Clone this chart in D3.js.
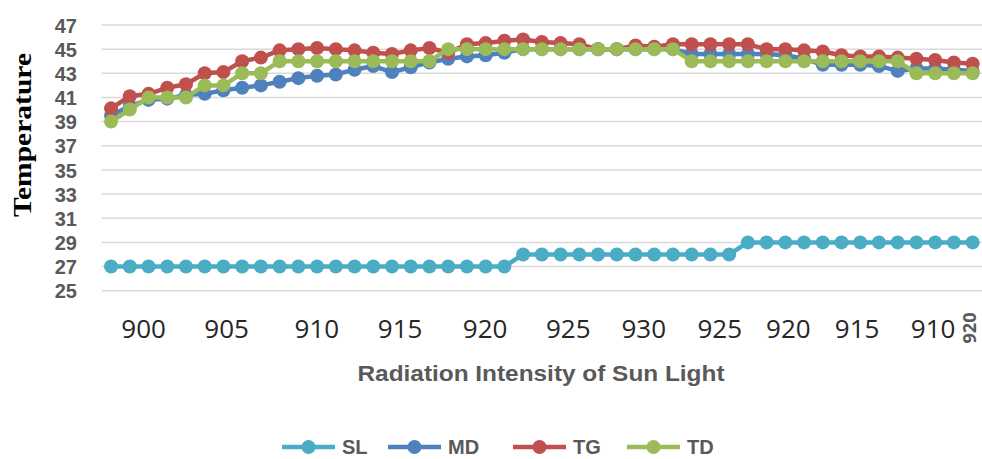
<!DOCTYPE html>
<html>
<head>
<meta charset="utf-8">
<script src="https://cdn.jsdelivr.net/npm/d3@7"></script>
<style>
  html, body { margin: 0; padding: 0; background: #ffffff; }
  svg { display: block; }
</style>
</head>
<body>
<svg id="chart" width="982" height="459"></svg>
<script>
// ---- Data ----
const categories = [1,2,3,4,5,6,7,8,9,10,11,12,13,14,15,16,17,18,19,20,21,22,23,24,25,26,27,28,29,30,31,32,33,34,35,36,37,38,39,40,41,42,43,44,45,46,47];
const seriesNames = ["SL", "MD", "TG", "TD"];
const SL = [27,27,27,27,27,27,27,27,27,27,27,27,27,27,27,27,27,27,27,27,27,27,
            28,28,28,28,28,28,28,28,28,28,28,28,
            29,29,29,29,29,29,29,29,29,29,29,29,29];
const MD = [39.5,40.3,40.8,40.9,41.2,41.3,41.6,41.8,42.0,42.3,42.6,42.8,42.9,43.3,43.6,43.1,43.5,43.9,44.2,44.4,44.5,44.7,
            45,45,45,45,45,45,45,45,45,
            44.6,44.6,44.6,44.6,44.6,44.5,44.2,43.7,43.7,43.7,43.6,43.2,43.4,43.4,43.3,43.2];
const TG = [40.1,41.1,41.3,41.8,42.1,43.0,43.1,44.0,44.3,44.9,45.0,45.1,45.0,44.9,44.7,44.6,44.9,45.1,44.7,45.4,45.5,45.7,
            45.8,45.6,45.5,45.4,45.0,45.0,45.3,45.2,45.4,45.4,45.4,45.4,45.4,45.0,45.0,44.9,44.8,44.5,44.4,44.4,44.3,44.2,44.1,43.9,43.8];
const TD = [39,40,41,41,41,42,42,43,43,
            44,44,44,44,44,44,44,44,44,
            45,45,45,45,45,45,45,45,45,45,45,45,45,
            44,44,44,44,44,44,44,44,44,44,44,44,
            43,43,43,43];
const yTicks = [25,27,29,31,33,35,37,39,41,43,45,47];
const xTickLabels = ["900","905","910","915","920","925","930","925","920","915","910","920"];
const xTickAt = [1.74, 6.17, 10.99, 15.43, 19.97, 24.41, 28.44, 32.5, 36.16, 39.83, 43.89, 46.18];
const xTitle = "Radiation Intensity of Sun Light";
const yTitle = "Temperature";

// ---- Styles ----
const colors = { SL: "#4BACC6", MD: "#4F81BD", TG: "#C0504D", TD: "#9BBB59" };
const seriesData = { SL, MD, TG, TD };

const svg = d3.select("#chart");
const plot = { left: 101.7, right: 982, top: 25, bottom: 290.7 };

const x = d3.scaleLinear().domain([-0.5, categories.length - 0.5]).range([plot.left, plot.right]);
const y = d3.scaleLinear().domain([25, 47]).range([plot.bottom, plot.top]);

// gridlines
svg.append("g").selectAll("line").data(yTicks).join("line")
  .attr("x1", plot.left).attr("x2", plot.right)
  .attr("y1", d => y(d)).attr("y2", d => y(d))
  .attr("stroke", "#d9d9d9").attr("stroke-width", 1.5);

// y axis labels
const yAxis = d3.axisLeft(y).tickValues(yTicks).tickSize(0).tickPadding(0);
const gy = svg.append("g").attr("transform", "translate(77,0)").call(yAxis);
gy.select(".domain").remove();
gy.selectAll("text")
  .attr("font-family", "Liberation Sans, Arial, sans-serif")
  .attr("font-weight", "bold").attr("font-size", 20).attr("fill", "#595959")
  .attr("dy", "0.36em");

// x tick labels
const lastTick = xTickLabels.length - 1;
svg.append("g").selectAll("text").data(xTickLabels).join("text")
  .attr("transform", (d, i) => i === lastTick
      ? `translate(${x(xTickAt[i])},${328}) rotate(-90)`
      : `translate(${x(xTickAt[i])},${338})`)
  .attr("text-anchor", "middle")
  .attr("font-family", "Open Sans, sans-serif")
  .attr("font-size", (d, i) => i === lastTick ? 18 : 26)
  .attr("fill", (d, i) => i === lastTick ? "#595959" : "#262626")
  .attr("font-weight", (d, i) => i === lastTick ? "bold" : "normal")
  .text(d => d);

// titles
svg.append("text")
  .attr("x", 541).attr("y", 381).attr("text-anchor", "middle")
  .attr("font-family", "Liberation Sans, Arial, sans-serif")
  .attr("font-weight", "bold").attr("font-size", 22).attr("fill", "#595959")
  .attr("textLength", 367).attr("lengthAdjust", "spacingAndGlyphs")
  .text(xTitle);

svg.append("text")
  .attr("transform", "translate(31,135) rotate(-90)")
  .attr("text-anchor", "middle")
  .attr("font-family", "Liberation Serif, Times New Roman, serif")
  .attr("font-weight", "bold").attr("font-size", 25).attr("fill", "#000")
  .attr("textLength", 164).attr("lengthAdjust", "spacingAndGlyphs")
  .text(yTitle);

// series
const line = d3.line().x((d, i) => x(i)).y(d => y(d));
seriesNames.forEach(name => {
  const g = svg.append("g");
  g.append("path").datum(seriesData[name])
    .attr("d", line).attr("fill", "none")
    .attr("stroke", colors[name]).attr("stroke-width", 4.5)
    .attr("stroke-linejoin", "round");
  g.selectAll("circle").data(seriesData[name]).join("circle")
    .attr("cx", (d, i) => x(i)).attr("cy", d => y(d)).attr("r", 7)
    .attr("fill", colors[name]);
});

// legend
const legendItems = [
  { name: "SL", x0: 282 },
  { name: "MD", x0: 388 },
  { name: "TG", x0: 513 },
  { name: "TD", x0: 627 }
];
const lg = svg.append("g");
legendItems.forEach(it => {
  lg.append("line").attr("x1", it.x0).attr("x2", it.x0 + 53)
    .attr("y1", 447).attr("y2", 447)
    .attr("stroke", colors[it.name]).attr("stroke-width", 4.5);
  lg.append("circle").attr("cx", it.x0 + 26.5).attr("cy", 447).attr("r", 7)
    .attr("fill", colors[it.name]);
  lg.append("text").attr("x", it.x0 + 60).attr("y", 454)
    .attr("font-family", "Liberation Sans, Arial, sans-serif")
    .attr("font-weight", "bold").attr("font-size", 20).attr("fill", "#595959")
    .text(it.name);
});
</script>
</body>
</html>
